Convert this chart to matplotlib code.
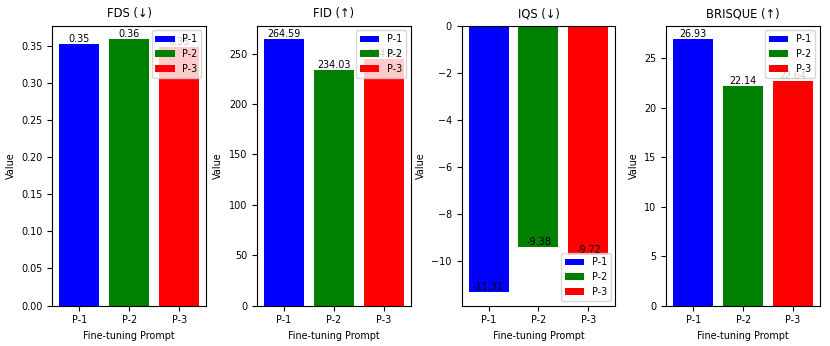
import matplotlib
matplotlib.use("Agg")
import matplotlib.pyplot as plt

# values
prompts = ["P-1", "P-2", "P-3"]
colors = ["blue", "green", "red"]
titles = ["FDS (↓)", "FID (↑)", "IQS (↓)", "BRISQUE (↑)"]
fds = [0.3536, 0.3599, 0.3487]
fid = [264.59, 234.03, 244.83]
iqs = [-11.31, -9.38, -9.72]
brisque = [26.93, 22.14, 22.64]
legend_locs = ["upper right", "upper right", "lower right", "upper right"]

plt.rcParams["font.size"] = 6.9

fig, axes = plt.subplots(1, 4, figsize=(8.3, 3.46), dpi=100)
fig.subplots_adjust(left=0.063, right=0.988, bottom=0.117, top=0.926, wspace=0.33)

for ax, title, vals, loc in zip(axes, titles, [fds, fid, iqs, brisque], legend_locs):
	bars = ax.bar(prompts, vals, color=colors, label=prompts)
	for b, v in zip(bars, vals):
		# label sits at the end of the bar
		ax.text(b.get_x() + b.get_width() / 2, b.get_height(), "%.2f" % v,
				ha="center", va="bottom")
	ax.set_title(title, fontsize=8.3)
	ax.set_xlabel("Fine-tuning Prompt")
	ax.set_ylabel("Value")
	ax.legend(loc=loc)

fig.savefig("out.png", dpi=100)
